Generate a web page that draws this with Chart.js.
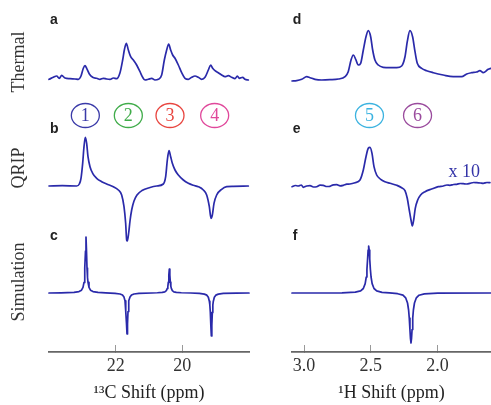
<!DOCTYPE html>
<html><head><meta charset="utf-8">
<script src="https://cdn.jsdelivr.net/npm/chart.js@4"></script>
<style>
html,body{margin:0;padding:0;background:#fff;}
#wrap{position:relative;width:491px;height:405px;overflow:hidden;}
#cl{position:absolute;left:0;top:0;}
#cr{position:absolute;left:250px;top:0;}
</style></head><body>
<div id="wrap"><canvas id="cl" width="250" height="405"></canvas><canvas id="cr" width="241" height="405"></canvas></div>
<script>
// ---------- DATA (ppm, intensity above baseline) ----------
const cTicks = [22, 20];
const hTicks = [3.0, 2.5, 2.0];
const rowLabels = ['Thermal', 'QRIP', 'Simulation'];
const cPanelLetters = ['a', 'b', 'c'];
const hPanelLetters = ['d', 'e', 'f'];
const cMarkLabels = ['1', '2', '3', '4'];
const cMarkPpm = [22.91, 21.62, 20.37, 19.03];
const hMarkLabels = ['5', '6'];
const hMarkPpm = [2.51, 2.15];
const markColors = ['#3a3aa8', '#40ac4a', '#e8453f', '#e0489b', '#3cb3e0', '#9a4b9d'];
const scaleNote = 'x 10';
const scaleNotePpm = 1.80;
const scaleNoteLevel = 14;

const cThermal = [[24.00,0.7],[23.87,2.7],[23.77,4],[23.69,1.7],[23.62,4.7],[23.52,2],[23.37,1.3],[23.22,1],[23.12,0.7],[23.04,4],[22.97,11.7],[22.92,14.3],[22.87,11.7],[22.79,6],[22.69,2.7],[22.57,1.7],[22.47,0.7],[22.37,1.7],[22.27,1],[22.17,0.7],[22.07,2],[21.97,1.3],[21.87,7.3],[21.79,20],[21.74,30],[21.68,36.7],[21.62,30],[21.55,23.3],[21.47,20],[21.37,15],[21.27,8.3],[21.19,2.7],[21.12,0],[21.02,0.7],[20.92,1.7],[20.82,0],[20.72,0.7],[20.62,5],[20.54,20],[20.47,30],[20.41,36],[20.35,30],[20.29,25],[20.22,21.7],[20.12,15],[20.02,7.3],[19.92,1.7],[19.82,0.7],[19.72,2.7],[19.62,4],[19.52,2.7],[19.42,0.7],[19.32,2.7],[19.22,10],[19.15,15],[19.09,11.7],[19.02,9.3],[18.92,7.3],[18.82,5],[18.72,3.3],[18.62,4.3],[18.52,2.7],[18.42,1.3],[18.35,4],[18.29,1.7],[18.19,2.7],[18.12,0.7],[18.02,0]];

const cQrip = [[24.00,0],[23.60,0.3],[23.17,0],[23.09,2],[23.04,7.7],[22.99,22.7],[22.95,39.3],[22.91,48.7],[22.87,42.7],[22.83,29.3],[22.77,19.3],[22.69,12.7],[22.57,7.7],[22.42,4.3],[22.27,2],[22.07,-0.7],[21.92,-4],[21.82,-9],[21.75,-20.7],[21.70,-37.3],[21.67,-54],[21.65,-55],[21.61,-47],[21.57,-35],[21.52,-24],[21.45,-15],[21.36,-9],[21.21,-4.5],[20.97,-1.5],[20.77,0],[20.57,2],[20.50,9.3],[20.45,26],[20.40,35.3],[20.35,29.3],[20.30,22.7],[20.22,16],[20.12,11],[19.97,6],[19.82,2.7],[19.67,0.7],[19.52,-0.7],[19.37,-4],[19.27,-9],[19.19,-20.7],[19.14,-32.3],[19.10,-29],[19.05,-17.3],[18.97,-9],[18.82,-3.3],[18.67,-0.7],[18.47,-0.3],[18.02,0]];

const cSim = [[24.00,0],[23.64,0.15],[23.25,0.56],[23.10,1.4],[23.025,2.8],[22.98,5.6],[22.95,10.6],[22.935,15.7],[22.92,25],[22.905,42],[22.89,56],[22.875,42],[22.86,25],[22.845,15.7],[22.83,10.6],[22.80,5.6],[22.755,2.8],[22.68,1.4],[22.53,0.56],[22.30,0.1],[22.02,-0.41],[21.87,-1.0],[21.795,-2.05],[21.75,-4.1],[21.72,-7.8],[21.705,-11.5],[21.69,-18.5],[21.675,-30.8],[21.66,-41],[21.645,-30.8],[21.63,-18.5],[21.615,-11.5],[21.60,-7.8],[21.57,-4.1],[21.525,-2.05],[21.45,-1.0],[21.30,-0.41],[20.91,0],[20.75,0.24],[20.60,0.6],[20.525,1.2],[20.48,2.4],[20.45,4.6],[20.435,6.7],[20.42,10.8],[20.405,18],[20.39,24],[20.375,18],[20.36,10.8],[20.345,6.7],[20.33,4.6],[20.30,2.4],[20.255,1.2],[20.18,0.6],[20.03,0.24],[19.75,0],[19.49,-0.43],[19.34,-1.1],[19.265,-2.15],[19.22,-4.3],[19.19,-8.2],[19.175,-12],[19.16,-19.4],[19.145,-32.3],[19.13,-43],[19.115,-32.3],[19.10,-19.4],[19.085,-12],[19.07,-8.2],[19.04,-4.3],[18.995,-2.15],[18.92,-1.1],[18.77,-0.43],[18.38,-0.1],[18.00,0]];

const hThermal = [[3.09,-1],[3.055,-0.7],[3.017,0.7],[2.980,3.3],[2.955,2.3],[2.918,0.7],[2.868,0],[2.806,0.3],[2.743,1],[2.693,3.3],[2.669,8.3],[2.648,20],[2.631,25],[2.613,20.7],[2.594,15],[2.576,16.7],[2.556,30],[2.536,43.3],[2.519,49.3],[2.501,43.3],[2.486,30],[2.469,20],[2.444,15],[2.407,12.7],[2.356,12.3],[2.306,12.3],[2.269,14],[2.244,23.3],[2.227,38.3],[2.207,49.3],[2.187,43.3],[2.169,28.3],[2.152,16.7],[2.119,11.7],[2.082,9.3],[2.032,7.3],[1.958,5],[1.883,3.3],[1.820,3.3],[1.782,6],[1.745,7.3],[1.708,8],[1.683,9.3],[1.658,7.3],[1.621,10.7],[1.60,11.7]];

const hQrip = [[3.09,-0.7],[3.065,0.5],[3.043,0],[3.02,1],[3.005,-1.3],[2.98,0],[2.955,0.3],[2.93,-1],[2.905,-0.7],[2.88,0.8],[2.856,0.7],[2.83,-0.5],[2.806,-0.3],[2.78,1.2],[2.755,1.3],[2.73,0.2],[2.706,0.7],[2.68,1.8],[2.656,2],[2.618,3.3],[2.581,6],[2.556,16],[2.536,29.3],[2.519,37.7],[2.506,38.7],[2.491,32.7],[2.476,19.3],[2.456,11],[2.426,6.7],[2.394,4.3],[2.356,2.7],[2.306,0.7],[2.269,-1.7],[2.244,-4.7],[2.227,-12.3],[2.212,-24],[2.199,-34],[2.189,-40],[2.179,-34],[2.167,-22.3],[2.149,-14],[2.127,-9],[2.094,-5.7],[2.044,-3],[1.995,-0.7],[1.957,0],[1.93,1],[1.907,0.7],[1.88,1.5],[1.857,1.7],[1.83,2.5],[1.808,2.3],[1.78,2],[1.758,2.7],[1.73,3.5],[1.708,3.3],[1.68,3],[1.658,2.7],[1.63,3.5],[1.608,3.3]];

const hSim = [[3.09,0],[2.716,0.2],[2.616,0.8],[2.576,2.1],[2.556,4.5],[2.542,9.4],[2.534,16],[2.529,23.5],[2.524,34],[2.52,43],[2.516,47],[2.512,43],[2.508,34],[2.503,23.5],[2.498,16],[2.49,9.4],[2.476,4.5],[2.456,2.1],[2.416,0.6],[2.36,0.1],[2.299,-0.7],[2.259,-2.1],[2.239,-4.8],[2.225,-10],[2.217,-17],[2.212,-25],[2.207,-36.5],[2.203,-45.5],[2.199,-50],[2.195,-45.5],[2.191,-36.5],[2.186,-25],[2.181,-17],[2.173,-10],[2.159,-4.8],[2.139,-2.2],[2.099,-0.85],[1.999,-0.2],[1.60,0]];

// ---------- STYLE ----------
const SERIF = '"Liberation Serif", "Times New Roman", serif';
const LINE = '#2a2aaa';
const rowY = { // panel scale ranges
  a: { min: -44, max: 80, w: 124 },
  b: { min: -26, max: 62, w: 88 },
  c: { min: -59, max: 81, w: 140 }
};
const letterLevel = [60, 57, 57];
const markLevel = -35.5;

function ds(data, yID, smooth) {
  return {
    data: data.map(([x, y]) => ({ x, y })),
    yAxisID: yID, borderColor: LINE, borderWidth: 1.7, pointRadius: 0,
    borderJoinStyle: 'round', borderCapStyle: 'round',
    fill: false, clip: false,
    cubicInterpolationMode: smooth ? 'monotone' : 'default', tension: 0
  };
}
function yScale(key, weight, title, leftWidth) {
  return {
    type: 'linear', position: 'left', stack: 'col', stackWeight: rowY[key].w, weight,
    min: rowY[key].min, max: rowY[key].max,
    ticks: { display: false }, grid: { display: false, drawTicks: false }, border: { display: false },
    title: title ? { display: true, text: title, font: { family: SERIF, size: 18 }, color: '#333', padding: { top: 8, bottom: 0 } } : { display: false },
    afterFit: s => { s.width = leftWidth; }
  };
}
function xScale(min, max, ticks, fmt, title) {
  return {
    type: 'linear', position: 'bottom', reverse: true, min, max,
    afterBuildTicks: s => { s.ticks = ticks.map(v => ({ value: v })); },
    afterFit: s => { s.height = 53; },
    ticks: { font: { family: SERIF, size: 18 }, color: '#333', padding: 10, callback: fmt, maxRotation: 0, autoSkip: false },
    grid: { display: true, drawOnChartArea: false, drawTicks: true, tickLength: -7, color: '#999', lineWidth: 1 },
    border: { display: true, color: '#666', width: 1.8 },
    title: { display: true, text: title, font: { family: SERIF, size: 18 }, color: '#222', padding: { top: 2, bottom: 1.2 } }
  };
}
const annot = {
  id: 'annot',
  afterDatasetsDraw(chart, args, o) {
    const ctx = chart.ctx, xs = chart.scales.x;
    ctx.save();
    ctx.font = 'bold 14px "Liberation Sans", Arial, sans-serif';
    ctx.fillStyle = '#222'; ctx.textAlign = 'left'; ctx.textBaseline = 'middle';
    o.letters.forEach((L, i) => {
      const ys = chart.scales[['ya', 'yb', 'yc'][i]];
      ctx.fillText(L, xs.getPixelForValue(o.letterPpm), ys.getPixelForValue(letterLevel[i]));
    });
    const ya = chart.scales.ya;
    o.marks.forEach((m, i) => {
      const cx = xs.getPixelForValue(o.markPpm[i]), cy = ya.getPixelForValue(markLevel);
      ctx.strokeStyle = o.colors[i]; ctx.lineWidth = 1.3;
      ctx.beginPath(); ctx.ellipse(cx, cy, 14, 12, 0, 0, Math.PI * 2); ctx.stroke();
      ctx.fillStyle = o.colors[i]; ctx.font = '18px ' + SERIF; ctx.textAlign = 'center'; ctx.textBaseline = 'middle';
      ctx.fillText(m, cx, cy + 1);
    });
    if (o.note) {
      const ye = chart.scales.yb;
      ctx.fillStyle = '#3434a8'; ctx.font = '18px ' + SERIF; ctx.textAlign = 'center'; ctx.textBaseline = 'middle';
      ctx.fillText(o.note, xs.getPixelForValue(o.notePpm), ye.getPixelForValue(o.noteLevel));
    }
    ctx.restore();
  }
};

new Chart(document.getElementById('cl'), {
  type: 'line',
  data: { datasets: [ds(cThermal, 'ya', true), ds(cQrip, 'yb', true), ds(cSim, 'yc', false)] },
  options: {
    responsive: false, animation: false, parsing: true,
    layout: { padding: { left: 0, right: 1, top: 0, bottom: 0 } },
    plugins: { legend: { display: false }, tooltip: { enabled: false },
      annot: { letters: cPanelLetters, letterPpm: 23.97, marks: cMarkLabels, markPpm: cMarkPpm, colors: markColors.slice(0, 4) } },
    scales: {
      x: xScale(18, 24, cTicks, v => String(v), '¹³C Shift (ppm)'),
      yc: yScale('c', 1, rowLabels[2], 49),
      yb: yScale('b', 2, rowLabels[1], 49),
      ya: yScale('a', 3, rowLabels[0], 49)
    }
  },
  plugins: [annot]
});

new Chart(document.getElementById('cr'), {
  type: 'line',
  data: { datasets: [ds(hThermal, 'ya', true), ds(hQrip, 'yb', true), ds(hSim, 'yc', false)] },
  options: {
    responsive: false, animation: false,
    layout: { padding: { left: 0, right: 0, top: 0, bottom: 0 } },
    plugins: { legend: { display: false }, tooltip: { enabled: false },
      annot: { letters: hPanelLetters, letterPpm: 3.085, marks: hMarkLabels, markPpm: hMarkPpm, colors: markColors.slice(4),
        note: scaleNote, notePpm: scaleNotePpm, noteLevel: scaleNoteLevel } },
    scales: {
      x: xScale(1.6, 3.09, hTicks, v => Number(v).toFixed(1), '¹H Shift (ppm)'),
      yc: yScale('c', 1, null, 42),
      yb: yScale('b', 2, null, 42),
      ya: yScale('a', 3, null, 42)
    }
  },
  plugins: [annot]
});
</script>
</body></html>
